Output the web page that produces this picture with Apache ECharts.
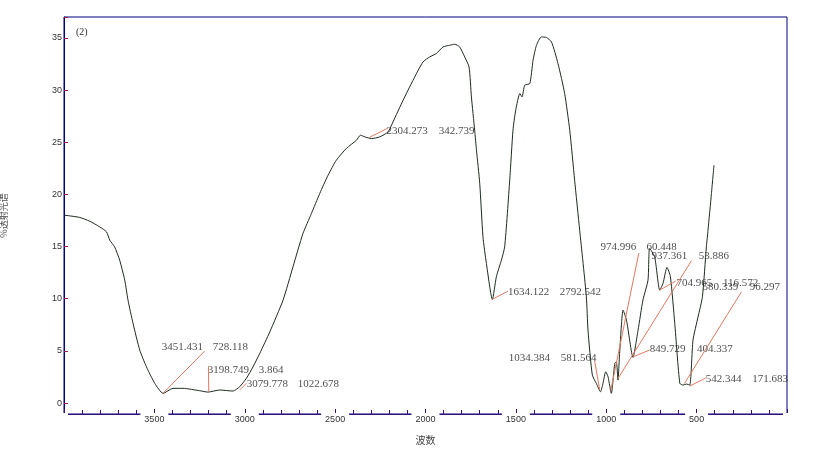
<!DOCTYPE html>
<html>
<head>
<meta charset="utf-8">
<script src="https://cdn.jsdelivr.net/npm/echarts@6/dist/echarts.min.js"></script>
<style>
    html, body {margin: 0; padding: 0; background: #fff;}
    #chart {width: 821px; height: 454px;}
</style>
</head>
<body>
<div id="chart"></div>
<script>
// 光谱曲线 (波数, 透射率)
let waveNumbers = [4000, 3913, 3858, 3802, 3765, 3747, 3720, 3692, 3664, 3646, 3618, 3581, 3544, 3498, 3452,
    3397, 3342, 3249, 3203, 3139, 3065, 3028, 2991, 2954, 2917, 2862, 2788, 2733, 2678, 2631, 2585, 2539,
    2493, 2438, 2382, 2360, 2336, 2299, 2253, 2207, 2180, 2124, 2069, 2014, 1977, 1940, 1903, 1866, 1838,
    1811, 1783, 1759, 1746, 1728, 1718, 1700, 1682, 1663, 1630, 1608, 1580, 1562, 1534, 1516, 1501, 1478,
    1466, 1451, 1423, 1405, 1386, 1359, 1331, 1303, 1267, 1230, 1202, 1175, 1147, 1110, 1101, 1077, 1055,
    1032, 1018, 1003, 990, 972, 953, 944, 935, 926, 907, 888, 852, 824, 797, 769, 760, 732, 704, 686, 664,
    645, 621, 593, 575, 557, 538, 520, 492, 468, 446, 437, 418, 404];
let transmit = [18.01, 17.79, 17.43, 16.88, 16.41, 15.61, 14.97, 13.70, 11.78, 9.87, 7.63, 5.08, 3.48, 1.89, 0.93,
    1.41, 1.41, 1.18, 1.05, 1.25, 1.15, 1.56, 2.37, 3.48, 4.76, 6.80, 9.87, 13.06, 16.25, 18.17, 20.09, 21.84,
    23.28, 24.40, 25.19, 25.67, 25.51, 25.35, 25.51, 25.99, 26.94, 29.02, 30.94, 32.69, 33.17, 33.50, 34.13, 34.29, 34.39,
    34.13, 33.17, 32.21, 29.34, 26.15, 24.23, 21.07, 15.93, 13.38, 9.93, 12.10, 13.70, 14.97, 21.36, 26.15, 28.07, 29.66,
    29.34, 30.46, 30.62, 32.85, 34.29, 35.09, 35.03, 34.61, 32.54, 29.66, 26.15, 21.36, 16.57, 10.18, 6.99, 2.68, 1.89,
    1.08, 1.89, 3.00, 2.52, 0.93, 3.80, 3.96, 2.20, 4.76, 8.91, 7.95, 4.38, 6.99, 9.87, 11.78, 14.82, 14.01, 10.82, 11.47, 13.00,
    12.10, 7.63, 1.89, 1.72, 1.82, 1.72, 6.03, 8.27, 10.18, 14.97, 16.57, 20.09, 22.80];

// 峰标注
let annWave = ['3451.431', '3198.749', '3079.778', '2304.273', '1634.122', '974.996',
    '1034.384', '937.361', '849.729', '704.965', '580.339', '542.344'];
let annValue = ['728.118', '3.864', '1022.678', '342.739', '2792.542', '60.448',
    '581.564', '53.886', '404.337', '116.572', '96.297', '171.683'];
let annWavePos = [[3459, 5.36], [3205, 3.16], [2989, 1.82], [2216, 26.08], [1543, 10.6], [1032, 14.9],
    [1540, 4.31], [750, 14.1], [759, 5.17], [612, 11.47], [468, 11.14], [450, 2.27]];
let annValuePos = [[3177, 5.36], [2923, 3.16], [2707, 1.82], [1927, 26.08], [1257, 10.6], [778, 14.9],
    [1252, 4.31], [488, 14.1], [498, 5.17], [354, 11.47], [206, 11.14], [192, 2.27]];
let annLineFrom = [[3451, 0.95], [3199, 1.08], [3028, 1.25], [2309, 25.48], [1632, 9.93], [975, 1.2],
    [1036, 1.25], [937, 2.3], [851, 4.43], [705, 10.82], [567, 1.88], [538, 1.63]];
let annLineTo = [[3222, 4.98], [3201, 3.48], [2991, 1.89], [2209, 26.34], [1543, 10.73], [820, 14.37],
    [1064, 4.02], [529, 13.63], [760, 5.08], [616, 11.69], [252, 10.66], [450, 2.39]];

let xTicks = [500, 1000, 1500, 2000, 2500, 3000, 3500];
let yTicks = [0, 5, 10, 15, 20, 25, 30, 35];

function setChart(){
    let myChart = echarts.init(document.getElementById('chart'));

    let curve = [];
    for(let i = 0;i<waveNumbers.length;i++){
        curve.push([waveNumbers[i], transmit[i]]);
    }
    let lines = [];
    for(let i = 0;i<annLineFrom.length;i++){
        lines.push([{coord: annLineFrom[i]}, {coord: annLineTo[i]}]);
    }
    let labels = [];
    for(let i = 0;i<annWave.length;i++){
        labels.push({value: annWavePos[i], name: annWave[i]});
        labels.push({value: annValuePos[i], name: annValue[i]});
    }

    let option = {
        animation: false,
        backgroundColor: '#fff',
        grid: {
            left: 64, right: 34, top: 17, bottom: 40,
            containLabel: false, outerBoundsMode: 'none',
            show: true, borderColor: '#000080', borderWidth: 1, backgroundColor: '#fff'
        },
        graphic: [{
            type: 'text', left: 76, top: 27,
            style: {text: '(2)', font: '10px "Liberation Serif"', fill: '#333'}
        }],
        xAxis: {
            type: 'value', min: 0, max: 4000, interval: 500, inverse: true,
            name: '波数', nameLocation: 'middle', nameGap: 21,
            nameTextStyle: {fontSize: 10, color: '#444', fontFamily: 'Noto Sans CJK SC'},
            axisLine: {onZero: false, lineStyle: {color: '#35107a', width: 1}},
            axisTick: {inside: true, length: 5, lineStyle: {color: '#35107a'}},
            minorTick: {show: true, splitNumber: 5, length: 4, lineStyle: {color: '#35107a'}},
            splitLine: {show: false},
            axisLabel: {
                margin: -1, fontSize: 9, color: '#333', fontFamily: 'Liberation Sans',
                backgroundColor: '#fff', padding: [2, 4, 0, 4],
                formatter: function (v){ return xTicks.indexOf(v) >= 0 ? String(v) : ''; }
            }
        },
        yAxis: {
            type: 'value', min: -1.05, max: 37, splitNumber: 8,
            name: '%透射光谱', nameLocation: 'middle', nameGap: 56,
            nameTextStyle: {fontSize: 9, color: '#555', fontFamily: 'Noto Sans CJK SC'},
            axisLine: {show: true, onZero: false, lineStyle: {color: '#000080', width: 1}},
            axisTick: {inside: true, length: 4, lineStyle: {color: '#a0205a'}},
            splitLine: {show: false},
            axisLabel: {
                margin: 2, fontSize: 9, color: '#333', fontFamily: 'Liberation Sans',
                formatter: function (v){ return yTicks.indexOf(v) >= 0 ? String(v) : ''; }
            }
        },
        series: [{
            type: 'line',
            data: curve,
            symbol: 'none',
            smooth: 0.2,
            lineStyle: {color: '#1e2b1e', width: 1},
            z: 3,
            markLine: {
                silent: true, symbol: ['none', 'none'],
                label: {show: false},
                lineStyle: {color: '#e07a5f', width: 1, type: 'solid'},
                data: lines
            }
        }, {
            type: 'scatter',
            data: labels,
            symbolSize: 0,
            silent: true,
            z: 4,
            label: {
                show: true, position: 'right', distance: 0,
                formatter: '{b}', fontSize: 11, color: '#222', fontFamily: 'Liberation Serif'
            }
        }]
    };

    myChart.setOption(option);
}

window.onload = function (){
    setChart();
}
</script>
</body>
</html>
